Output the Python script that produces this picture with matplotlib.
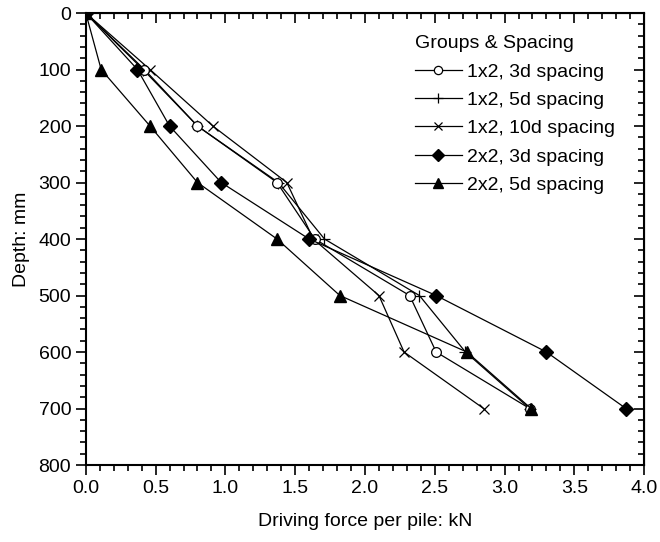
import numpy as np
import matplotlib
matplotlib.use("Agg")
import matplotlib.pyplot as plt
from matplotlib.ticker import MultipleLocator, FormatStrFormatter

plt.rcParams['font.family'] = ['Liberation Sans', 'DejaVu Sans']

depth = [0, 100, 200, 300, 400, 500, 600, 700]

# driving force per pile (kN) for each group
f_1x2_3d = [0, 0.42, 0.80, 1.37, 1.64, 2.32, 2.51, 3.18]
f_1x2_5d = [0, 0.41, 0.80, 1.38, 1.71, 2.39, 2.72, 3.18]
f_1x2_10d = [0, 0.46, 0.91, 1.44, 1.63, 2.10, 2.28, 2.85]
f_2x2_3d = [0, 0.37, 0.60, 0.97, 1.60, 2.51, 3.30, 3.87]
f_2x2_5d = [0, 0.11, 0.46, 0.80, 1.37, 1.82, 2.73, 3.19]

labels = ['1x2, 3d spacing', '1x2, 5d spacing', '1x2, 10d spacing',
          '2x2, 3d spacing', '2x2, 5d spacing']

fig = plt.figure(figsize=(6.6, 5.42), dpi=100)
ax = fig.add_axes([0.130, 0.142, 0.846, 0.834])

lw = 0.9
ax.plot(f_1x2_3d, depth, 'k-', lw=lw, marker='o', ms=7, mfc='white', mec='k', mew=0.9, label=labels[0], zorder=4)
ax.plot(f_1x2_5d, depth, 'k-', lw=lw, marker='+', ms=8, mec='k', mew=0.9, label=labels[1], zorder=3)
ax.plot(f_1x2_10d, depth, 'k-', lw=lw, marker='x', ms=7, mec='k', mew=0.9, label=labels[2], zorder=3)
ax.plot(f_2x2_3d, depth, 'k-', lw=lw, marker='D', ms=7, mfc='k', mec='k', label=labels[3], zorder=5)
ax.plot(f_2x2_5d, depth, 'k-', lw=lw, marker='^', ms=8, mfc='k', mec='k', label=labels[4], zorder=5)

ax.set_xlim(0, 4)
ax.set_ylim(800, 0)
ax.xaxis.set_major_locator(MultipleLocator(0.5))
ax.xaxis.set_minor_locator(MultipleLocator(0.1))
ax.xaxis.set_major_formatter(FormatStrFormatter('%.1f'))
ax.yaxis.set_major_locator(MultipleLocator(100))
ax.yaxis.set_minor_locator(MultipleLocator(20))

ax.tick_params(which='both', direction='out', labelsize=14, width=1.2)
ax.tick_params(which='major', length=7)
ax.tick_params(which='minor', length=4)
for s in ax.spines.values():
    s.set_linewidth(1.5)

# mirrored ticks pointing inward on top and right
top = ax.secondary_xaxis('top')
top.xaxis.set_major_locator(MultipleLocator(0.5))
top.xaxis.set_minor_locator(MultipleLocator(0.1))
top.tick_params(which='both', direction='in', labeltop=False, width=1.2)
top.tick_params(which='major', length=7)
top.tick_params(which='minor', length=4)
right = ax.secondary_yaxis('right')
right.yaxis.set_major_locator(MultipleLocator(100))
right.yaxis.set_minor_locator(MultipleLocator(20))
right.tick_params(which='both', direction='in', labelright=False, width=1.2)
right.tick_params(which='major', length=7)
right.tick_params(which='minor', length=4)

ax.set_xlabel('Driving force per pile: kN', fontsize=14, labelpad=12)
ax.set_ylabel('Depth: mm', fontsize=14, labelpad=6)

leg = ax.legend(title='Groups & Spacing', loc='upper left', bbox_to_anchor=(0.572, 0.972),
                frameon=False, fontsize=14, title_fontsize=14, borderpad=0,
                handlelength=2.4, handletextpad=0.3, labelspacing=0.55,
                markerscale=0.85, alignment='left')

fig.savefig('out.png', dpi=100)
